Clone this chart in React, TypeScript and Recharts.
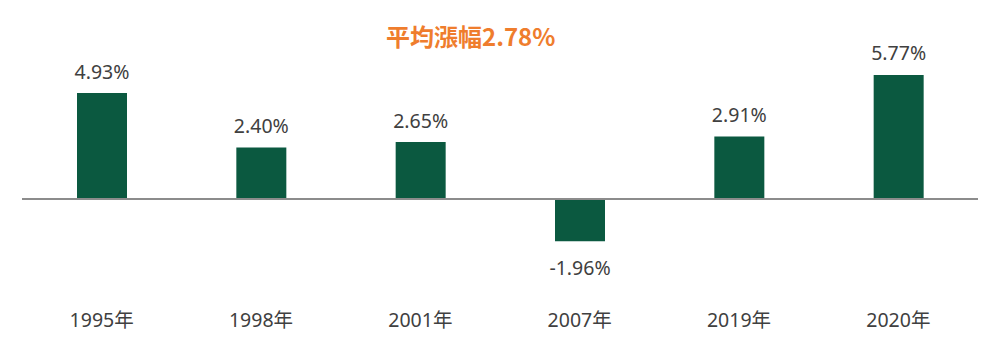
import React from 'react';
import { BarChart, Bar, XAxis, YAxis, ReferenceLine, LabelList } from 'recharts';

const years = ['1995年', '1998年', '2001年', '2007年', '2019年', '2020年'];
const returns = [4.93, 2.4, 2.65, -1.96, 2.91, 5.77];
const titleText = '平均漲幅2.78%';

const chartData = years.map((year, i) => ({ year, value: returns[i] }));

const FONT = '"Noto Sans", "Noto Sans CJK TC", sans-serif';
const TEXT_COLOR = '#404040';
const BAR_COLOR = '#0b5940';

// 正負值標籤：正值放在柱頂上方，負值放在柱底下方
function ValueLabel(props: any) {
  const { x, y, width, height, value } = props;
  const cx = x + width / 2;
  const top = Math.min(y, y + height);
  const bottom = Math.max(y, y + height);
  const ty = value < 0 ? bottom + 26 : top - 22;
  return (
    <text
      x={cx}
      y={ty}
      textAnchor="middle"
      dominantBaseline="central"
      fill={TEXT_COLOR}
      style={{ fontSize: 19.5, fontFamily: FONT }}
    >
      {value.toFixed(2)}%
    </text>
  );
}

function YearTick(props: any) {
  const { x, y, payload } = props;
  return (
    <text
      x={x}
      y={y + 26}
      textAnchor="middle"
      dominantBaseline="central"
      fill={TEXT_COLOR}
      style={{ fontSize: 19.5, fontFamily: FONT }}
    >
      {payload.value}
    </text>
  );
}

export default function App() {
  return (
    <div style={{ position: 'relative', width: 984, height: 347, fontFamily: FONT }}>
      <div
        style={{
          position: 'absolute',
          left: 378,
          top: 28,
          transform: 'translateY(-50%)',
          color: '#ef7d2d',
          fontSize: 24,
          fontWeight: 700,
          fontFamily: '"Noto Sans CJK TC", "Noto Sans", sans-serif',
          whiteSpace: 'nowrap',
          lineHeight: 1,
        }}
      >
        {titleText}
      </div>
      <BarChart
        width={984}
        height={347}
        data={chartData}
        margin={{ top: 62, right: 14, left: 14, bottom: 10 }}
      >
        <XAxis
          dataKey="year"
          axisLine={false}
          tickLine={false}
          height={60}
          tick={<YearTick />}
          interval={0}
        />
        <YAxis hide domain={[-4, 6]} allowDataOverflow />
        <ReferenceLine y={0} stroke="#8c8c8c" strokeWidth={2} ifOverflow="extendDomain" />
        <Bar dataKey="value" fill={BAR_COLOR} barSize={50} isAnimationActive={false}>
          <LabelList dataKey="value" content={<ValueLabel />} />
        </Bar>
      </BarChart>
    </div>
  );
}
